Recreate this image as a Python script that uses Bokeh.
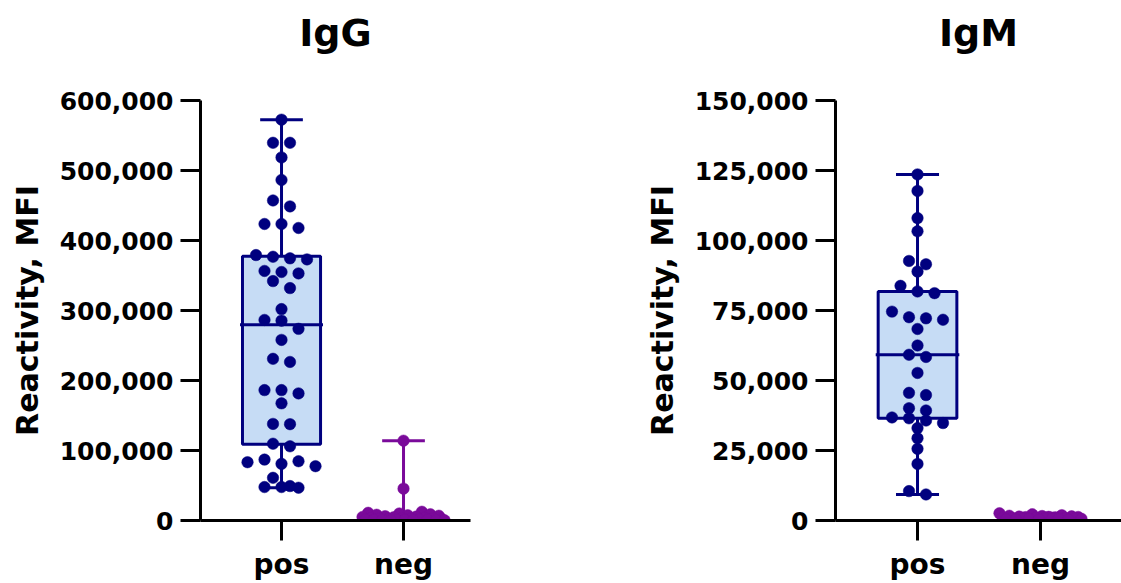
import numpy as np
from bokeh.plotting import figure
from bokeh.layouts import row
from bokeh.models import FixedTicker, NumeralTickFormatter, Range1d
from bokeh.embed import file_html
from bokeh.resources import INLINE

groups = ["pos", "neg"]

igg_pos = [572600, 539600, 539600, 518700, 486500, 457200, 448700, 423600, 423600, 417900,
           379200, 376800, 374500, 373000, 356500, 355000, 353000, 342000, 332000,
           302000, 286500, 285500, 273800, 258000, 231000, 226500, 186300, 186300, 181600,
           167400, 138000, 137600, 109700, 106000, 87000, 84700, 83300, 80900, 77600,
           61000, 49200, 47800, 47800, 46800]
igg_neg = [114000, 45500, 12500, 11000, 10000, 9000, 8200, 7500, 6800, 6200, 5600, 5000,
           4500, 4000, 3600, 3200, 2900, 2600, 2300, 2000, 1800, 1600, 1400, 1200, 1000,
           900, 800, 700, 600, 500, 400, 300]

igm_pos = [123600, 117700, 108000, 103300, 92700, 91500, 88900, 83800, 81800, 81200,
           74600, 72600, 72200, 71700, 68400, 62500, 59200, 58400, 52700, 45600, 44800,
           40100, 39300, 36800, 36500, 35700, 34800, 33000, 29400, 25600, 20200, 10500, 9300]
igm_neg = [2600, 2200, 1900, 1700, 1600, 1500, 1400, 1300, 1250, 1200, 1100, 1000, 950,
           900, 850, 800, 750, 700, 650, 600, 550, 500, 450, 400, 350, 300]

igg_ticks = [0, 100000, 200000, 300000, 400000, 500000, 600000]
igm_ticks = [0, 25000, 50000, 75000, 100000, 125000, 150000]

NAVY = "#00007F"
PURPLE = "#7A0A9A"
BOXFILL = "#C6DCF5"
FONT = "DejaVu Sans"


def swarm(vals, center, px_x, px_y, step_px=17.0, max_half_px=41.0, row_px=9.0):
    v = np.asarray(vals, float)
    order = np.argsort(-v, kind="stable")
    rows, cur = [], []
    for i in order:
        if cur and (v[cur[0]] - v[i]) * px_y > row_px:
            rows.append(cur)
            cur = []
        cur.append(i)
    rows.append(cur)
    xs = np.zeros(len(v))
    for r in rows:
        k = len(r)
        if k > 4:
            r = sorted(r, key=lambda i: (i * 37) % 101)
        step = step_px if k < 2 else min(step_px, 2 * max_half_px / (k - 1))
        for j, i in enumerate(r):
            xs[i] = center + (j - (k - 1) / 2) * step / px_x
    return xs


def panel(title, pos_vals, neg_vals, ticks, width, bl, br, x0, x1):
    height = 583
    bt, bb = 100, 60
    fh = height - bt - bb
    ymax = ticks[-1]
    fw = width - bl - br
    # trailing empty line reserves room so the title sits well above the axis
    p = figure(width=width, height=height, output_backend="svg", toolbar_location=None,
               x_range=Range1d(x0, x1), y_range=Range1d(0, ymax),
               min_border_left=bl, min_border_right=br, min_border_top=bt,
               min_border_bottom=bb, title=title + "\n")
    p.outline_line_color = None
    p.grid.visible = False
    p.background_fill_color = "white"
    p.border_fill_color = "white"
    p.title.text_font = FONT
    p.title.text_font_size = "38px"
    p.title.text_font_style = "bold"
    p.title.align = "center"
    p.title.text_color = "black"
    p.title.vertical_align = "top"
    p.title.standoff = 0

    px_x = fw / (x1 - x0)
    px_y = fh / ymax
    bw, cw = 0.32, 0.175
    for k, (vals, col) in enumerate([(pos_vals, NAVY), (neg_vals, PURPLE)]):
        c = k + 1
        v = np.asarray(vals, float)
        q1, med, q3 = np.percentile(v, [25, 50, 75])
        lo, hi = v.min(), v.max()
        p.quad(left=[c - bw], right=[c + bw], bottom=[q1], top=[q3],
               fill_color=BOXFILL, line_color=col, line_width=3)
        p.segment(x0=[c, c], y0=[q3, q1], x1=[c, c], y1=[hi, lo], line_color=col, line_width=3)
        p.segment(x0=[c - cw, c - cw], y0=[hi, lo], x1=[c + cw, c + cw], y1=[hi, lo],
                  line_color=col, line_width=3)
        p.segment(x0=[c - bw - 0.02], y0=[med], x1=[c + bw + 0.02], y1=[med],
                  line_color=col, line_width=3)
        xs = swarm(v, c, px_x, px_y)
        p.scatter(xs, v, size=11.5, fill_color=col, line_color=col, line_width=0.5)

    ya = p.yaxis[0]
    ya.ticker = FixedTicker(ticks=ticks)
    ya.formatter = NumeralTickFormatter(format="0,0")
    ya.bounds = (0, ymax)
    ya.axis_label = "Reactivity, MFI"
    ya.axis_label_text_font = FONT
    ya.axis_label_text_font_size = "30px"
    ya.axis_label_text_font_style = "bold"
    ya.axis_label_text_color = "black"
    ya.axis_label_standoff = 12
    ya.major_label_text_font = FONT
    ya.major_label_text_font_size = "25px"
    ya.major_label_text_font_style = "bold"
    ya.major_label_text_color = "black"
    ya.major_label_standoff = 7
    ya.axis_line_width = 3
    ya.major_tick_line_width = 3
    ya.major_tick_out = 20
    ya.major_tick_in = 0
    ya.minor_tick_line_color = None

    xa = p.xaxis[0]
    xa.ticker = FixedTicker(ticks=[1, 2])
    xa.major_label_overrides = {1: groups[0], 2: groups[1]}
    xa.major_label_text_font = FONT
    xa.major_label_text_font_size = "28px"
    xa.major_label_text_font_style = "bold"
    xa.major_label_text_color = "black"
    xa.major_label_standoff = 7
    xa.axis_line_width = 3
    xa.major_tick_line_width = 3
    xa.major_tick_out = 20
    xa.major_tick_in = 0
    xa.minor_tick_line_color = None
    return p


p1 = panel("IgG", igg_pos, igg_neg, igg_ticks, 640, 200, 170, 0.336, 2.549)
p2 = panel("IgM", igm_pos, igm_neg, igm_ticks, 481, 195, 0, 0.333, 2.659)
layout = row(p1, p2)
open("out.html", "w").write(file_html(layout, INLINE))
